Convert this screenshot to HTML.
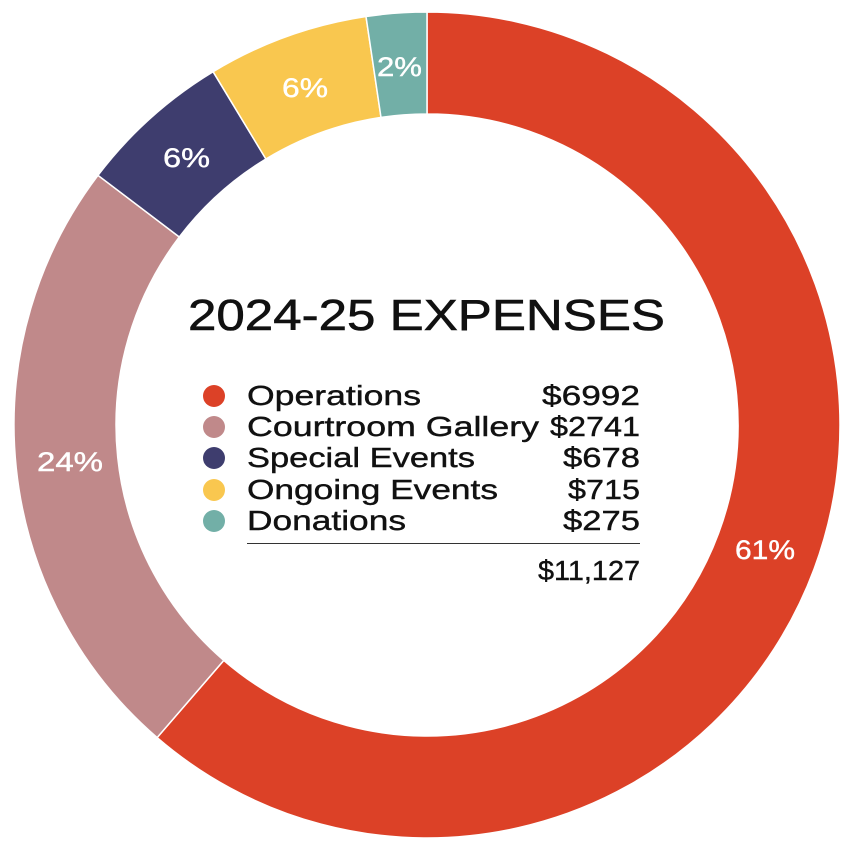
<!DOCTYPE html>
<html><head><meta charset="utf-8"><style>html,body{margin:0;padding:0;background:#fff}svg{display:block}text{font-family:"Liberation Sans",sans-serif}</style></head>
<body>
<svg width="851" height="849" viewBox="0 0 851 849" xmlns="http://www.w3.org/2000/svg">
<g stroke="#fff" stroke-width="1.5">
<path d="M427,12 A413,413 0 1 1 157.1,737.6 L223.8,660.4 A311,311 0 1 0 427,114 Z" fill="#dc4127"/>
<path d="M157.1,737.6 A413,413 0 0 1 98.0,175.3 L179.3,237.0 A311,311 0 0 0 223.8,660.4 Z" fill="#c0898a"/>
<path d="M98.0,175.3 A413,413 0 0 1 213.1,71.7 L265.9,159.0 A311,311 0 0 0 179.3,237.0 Z" fill="#3e3d6e"/>
<path d="M213.1,71.7 A413,413 0 0 1 366.0,16.5 L381.0,117.4 A311,311 0 0 0 265.9,159.0 Z" fill="#f9c74f"/>
<path d="M366.0,16.5 A413,413 0 0 1 427,12 L427,114 A311,311 0 0 0 381.0,117.4 Z" fill="#72afa7"/>
</g>
<g fill="#fff" font-size="27" stroke="#fff" stroke-width="0.4">
<text x="735" y="559" textLength="60" lengthAdjust="spacingAndGlyphs">61%</text>
<text x="37" y="471" textLength="66" lengthAdjust="spacingAndGlyphs">24%</text>
<text x="163" y="167" textLength="47" lengthAdjust="spacingAndGlyphs">6%</text>
<text x="282" y="97" textLength="46" lengthAdjust="spacingAndGlyphs">6%</text>
<text x="377" y="76" textLength="45" lengthAdjust="spacingAndGlyphs">2%</text>
</g>
<text x="188" y="330" font-size="44" fill="#111" stroke="#111" stroke-width="0.6" textLength="477" lengthAdjust="spacingAndGlyphs">2024-25 EXPENSES</text>
<g font-size="28" fill="#111" stroke="#111" stroke-width="0.4">
<circle cx="214" cy="396" r="11" fill="#dc4127" stroke="none"/>
<circle cx="214" cy="427" r="11" fill="#c0898a" stroke="none"/>
<circle cx="214" cy="458" r="11" fill="#3e3d6e" stroke="none"/>
<circle cx="214" cy="490" r="11" fill="#f9c74f" stroke="none"/>
<circle cx="214" cy="521" r="11" fill="#72afa7" stroke="none"/>
<text x="247" y="405" textLength="174" lengthAdjust="spacingAndGlyphs">Operations</text>
<text x="247" y="436" textLength="292" lengthAdjust="spacingAndGlyphs">Courtroom Gallery</text>
<text x="247" y="467" textLength="228" lengthAdjust="spacingAndGlyphs">Special Events</text>
<text x="247" y="499" textLength="251" lengthAdjust="spacingAndGlyphs">Ongoing Events</text>
<text x="247" y="530" textLength="159" lengthAdjust="spacingAndGlyphs">Donations</text>
<text x="542" y="405" textLength="98" lengthAdjust="spacingAndGlyphs">$6992</text>
<text x="550" y="436" textLength="90" lengthAdjust="spacingAndGlyphs">$2741</text>
<text x="563" y="467" textLength="77" lengthAdjust="spacingAndGlyphs">$678</text>
<text x="568" y="499" textLength="72" lengthAdjust="spacingAndGlyphs">$715</text>
<text x="563" y="530" textLength="77" lengthAdjust="spacingAndGlyphs">$275</text>
<text x="538" y="580" textLength="102" lengthAdjust="spacingAndGlyphs">$11,127</text>
</g>
<line x1="247" y1="543.5" x2="640" y2="543.5" stroke="#333" stroke-width="1"/>
</svg>
</body></html>
